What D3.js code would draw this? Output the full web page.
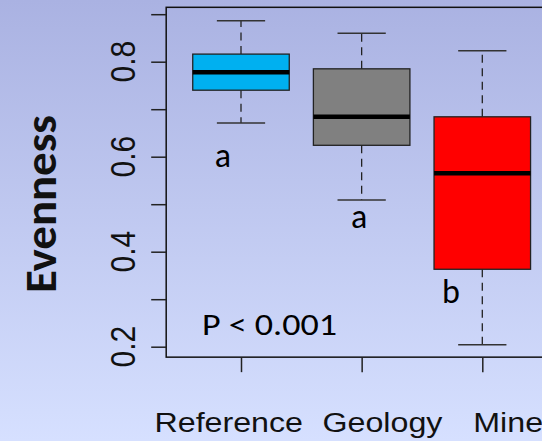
<!DOCTYPE html>
<html>
<head>
<meta charset="utf-8">
<script src="https://cdn.jsdelivr.net/npm/d3@7"></script>
<style>
  html, body { margin: 0; padding: 0; overflow: hidden; }
  svg { display: block; }
</style>
</head>
<body>
<script>
// ---- data ----
const categories = ["Reference", "Geology", "Mine"];
const whiskerLow  = [0.671, 0.509, 0.204];
const q1          = [0.740, 0.624, 0.363];
const median      = [0.778, 0.684, 0.565];
const q3          = [0.816, 0.785, 0.684];
const whiskerHigh = [0.886, 0.860, 0.823];
const letters     = ["a", "a", "b"];
const boxColors   = ["#00b0f0", "#808080", "#ff0000"];
const yTicks      = [0.2, 0.3, 0.4, 0.5, 0.6, 0.7, 0.8, 0.9];
const yTickLabels = ["0.2", "", "0.4", "", "0.6", "", "0.8", ""];
const pText       = "P < 0.001";
const yTitle      = "Evenness";

// annotation anchor positions (data units)
const letterX = [0.85, 1.98, 2.74];
const letterY = [0.579, 0.449, 0.291];

const W = 542, H = 441;
const svg = d3.select("body").append("svg").attr("width", W).attr("height", H);

const defs = svg.append("defs");
const grad = defs.append("linearGradient").attr("id", "bg").attr("x1", 0).attr("y1", 0).attr("x2", 0).attr("y2", 1);
grad.append("stop").attr("offset", "0%").attr("stop-color", "#aab2e2");
grad.append("stop").attr("offset", "100%").attr("stop-color", "#d6e0ff");
svg.append("rect").attr("width", W).attr("height", H).attr("fill", "url(#bg)");

const x = d3.scaleLinear().domain([1, 3]).range([241, 482.3]);
const y = d3.scaleLinear().domain([0.2, 0.8]).range([346.7, 61.7]);

const xMin = 0.38, xMax = 3.62;
const yMin = 0.178, yMax = 0.9145;

const g = svg.append("g");

// boxes
categories.forEach((c, i) => {
  const cx = i + 1;
  g.append("line").attr("x1", x(cx)).attr("x2", x(cx)).attr("y1", y(q3[i])).attr("y2", y(whiskerHigh[i]))
    .attr("stroke", "#222").attr("stroke-width", 1.3).attr("stroke-dasharray", "8,5.5");
  g.append("line").attr("x1", x(cx)).attr("x2", x(cx)).attr("y1", y(q1[i])).attr("y2", y(whiskerLow[i]))
    .attr("stroke", "#222").attr("stroke-width", 1.3).attr("stroke-dasharray", "8,5.5");
  [whiskerHigh[i], whiskerLow[i]].forEach(v => {
    g.append("line").attr("x1", x(cx - 0.2)).attr("x2", x(cx + 0.2)).attr("y1", y(v)).attr("y2", y(v))
      .attr("stroke", "#333").attr("stroke-width", 1.5);
  });
  g.append("rect").attr("x", x(cx - 0.4)).attr("width", x(cx + 0.4) - x(cx - 0.4))
    .attr("y", y(q3[i])).attr("height", y(q1[i]) - y(q3[i]))
    .attr("fill", boxColors[i]).attr("stroke", "#222").attr("stroke-width", 1.3);
  g.append("line").attr("x1", x(cx - 0.4)).attr("x2", x(cx + 0.4)).attr("y1", y(median[i])).attr("y2", y(median[i]))
    .attr("stroke", "#000").attr("stroke-width", 4.5);
});

// frame
svg.append("rect").attr("x", x(xMin)).attr("y", y(yMax))
  .attr("width", x(xMax) - x(xMin)).attr("height", y(yMin) - y(yMax))
  .attr("fill", "none").attr("stroke", "#111").attr("stroke-width", 1.5);

// y axis
const yAxis = svg.append("g").attr("transform", `translate(${x(xMin)},0)`)
  .call(d3.axisLeft(y).tickValues(yTicks).tickSize(15).tickFormat((d, i) => yTickLabels[i]));
yAxis.select(".domain").remove();
yAxis.selectAll(".tick line").attr("stroke", "#222").attr("stroke-width", 1.5);
yAxis.selectAll(".tick text").remove();
yTicks.forEach((t, i) => {
  if (!yTickLabels[i]) return;
  svg.append("text")
    .attr("transform", `translate(135,${y(t)}) scale(1.17,1) rotate(-90)`)
    .attr("text-anchor", "middle")
    .attr("font-family", "'Liberation Sans', Arial, sans-serif")
    .attr("font-size", 30).attr("fill", "#111")
    .text(yTickLabels[i]);
});

// x axis ticks
const xAxis = svg.append("g").attr("transform", `translate(0,${y(yMin)})`)
  .call(d3.axisBottom(x).tickValues([1, 2, 3]).tickSize(15).tickFormat(""));
xAxis.select(".domain").remove();
xAxis.selectAll(".tick line").attr("stroke", "#222").attr("stroke-width", 1.5);

// x category labels
const labelStarts = [154.5, 322.5, 473.3];
categories.forEach((c, i) => {
  svg.append("text")
    .attr("transform", `translate(${labelStarts[i]},431.7) scale(1.15,1)`)
    .attr("font-family", "'Liberation Sans', Arial, sans-serif")
    .attr("font-size", 28).attr("fill", "#111")
    .text(c);
});

// y title
svg.append("text")
  .attr("transform", "translate(56,204) rotate(-90)")
  .attr("text-anchor", "middle")
  .attr("font-family", "Carlito, Calibri, Lato, sans-serif")
  .attr("font-weight", "bold").attr("font-size", 44).attr("fill", "#111")
  .attr("textLength", 178).attr("lengthAdjust", "spacingAndGlyphs")
  .text(yTitle);

// significance letters
letters.forEach((l, i) => {
  svg.append("text")
    .attr("x", x(letterX[i])).attr("y", y(letterY[i]))
    .attr("text-anchor", "middle")
    .attr("font-family", "Carlito, Calibri, Lato, sans-serif")
    .attr("font-size", 34).attr("fill", "#000")
    .text(l);
});

// p value
svg.append("text")
  .attr("x", 202).attr("y", 335)
  .attr("font-family", "Carlito, Calibri, Lato, sans-serif")
  .attr("font-size", 31).attr("fill", "#000")
  .attr("textLength", 135).attr("lengthAdjust", "spacingAndGlyphs")
  .text(pText);
</script>
</body>
</html>
